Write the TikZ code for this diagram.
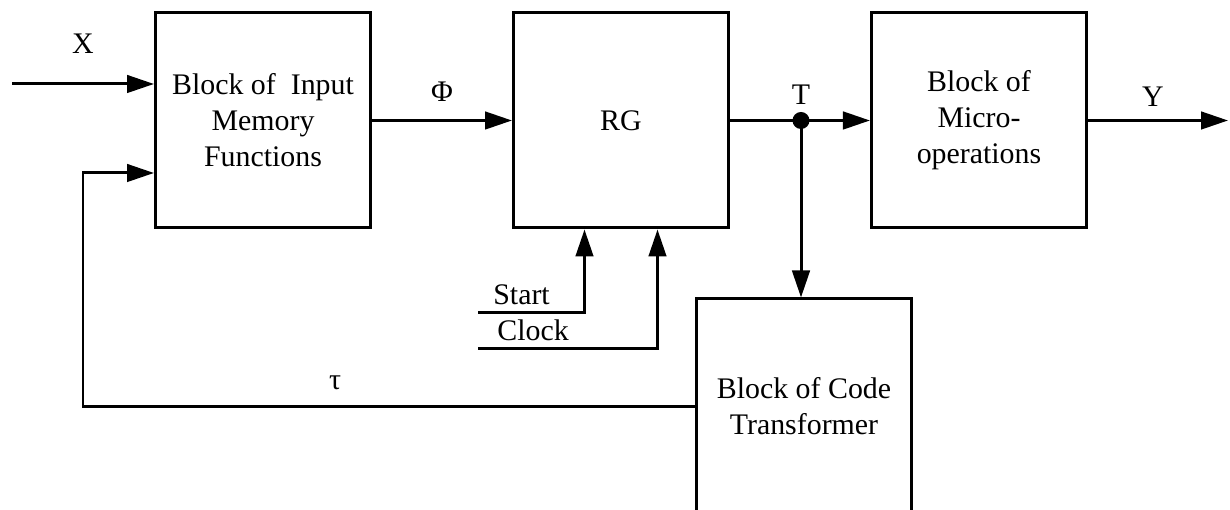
\documentclass[tikz,border=0pt]{standalone}
\usepackage{fontspec}
\setmainfont{Liberation Serif}
\usetikzlibrary{arrows.meta,positioning,calc}

\begin{document}
\begin{tikzpicture}[
  blk/.style={draw,line width=1.7pt,minimum width=4.3cm,minimum height=4.3cm,align=center,inner sep=0pt},
  sig/.style={line width=1.7pt,-{Triangle[length=0.54cm,width=0.35cm]}},
  wire/.style={line width=1.7pt},
  lbl/.style={inner sep=0pt},
  font=\fontsize{17pt}{20.5pt}\selectfont]
\useasboundingbox (0,0) rectangle (24.6,10.2);
\clip (0,0) rectangle (24.6,10.2);
% Blocks
\node[blk] (inp) at (5.26,7.79) {Block of\hspace{0.5em}Input\\Memory\\Functions};
\node[blk,right=2.8cm of inp] (rg) {RG};
\node[blk,right=2.8cm of rg] (mic) {Block of\\Micro-\\operations};
\node[blk] (ctr) at (16.08,2.07) {Block of Code\\Transformer};
% Free ends and branch point
\coordinate (xin) at (0.24,8.52);
\coordinate (fbin) at (1.66,6.74);
\coordinate (yout) at (24.56,7.79);
\coordinate (st) at (9.56,3.94);
\coordinate (ck) at (9.56,3.22);
\coordinate (tdot) at (16.02,7.79);
% Signals
\draw[sig] (xin) -- (xin -| inp.west);
\draw[sig] (inp.east) -- (rg.west);
\draw[wire] (rg.east) -- (tdot);
\draw[sig] (tdot) -- (mic.west);
\draw[sig] (mic.east) -- (yout);
\draw[sig] (tdot) -- (tdot |- ctr.north);
\draw[sig] (ctr.west) -| (fbin) -- (fbin -| inp.west);
\draw[sig] (st) -| ([xshift=-0.73cm]rg.south);
\draw[sig] (ck) -| ([xshift=0.73cm]rg.south);
\fill (tdot) circle (0.17);
% Labels
\node[lbl] (lx) at (1.66,9.32) {X};
\node[lbl] (lphi) at (8.84,8.36) {Φ};
\node[lbl] (lt) at (16.02,8.30) {T};
\node[lbl] (ly) at (23.06,8.26) {Y};
\node[lbl] (ltau) at (6.70,2.54) {τ};
\node[lbl,anchor=base west] (lst) at (9.86,4.10) {Start};
\node[lbl,anchor=base west] (lck) at (9.94,3.38) {Clock};
\end{tikzpicture}
\end{document}
